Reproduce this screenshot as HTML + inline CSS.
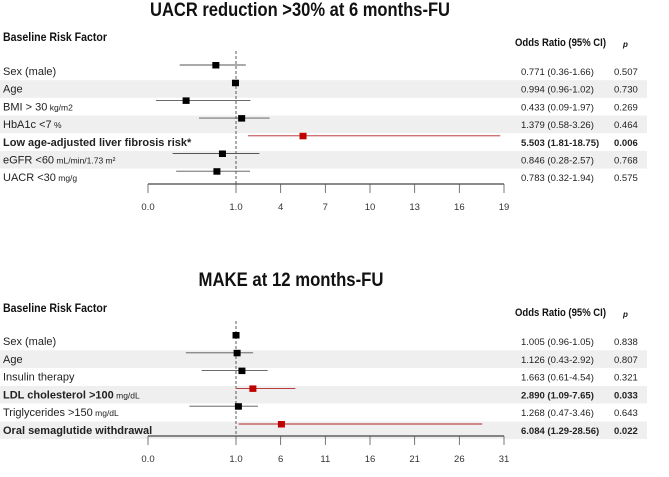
<!DOCTYPE html>
<html><head><meta charset="utf-8"><style>
html,body{margin:0;padding:0;background:#fff;width:669px;height:477px;overflow:hidden}
svg{display:block;font-family:"Liberation Sans",sans-serif}
</style></head><body>
<svg id="s" width="669" height="477" viewBox="0 0 669 477"></svg>
<script>
// Chart 1 data
const labels1 = ["Sex (male)","Age","BMI > 30|kg/m2","HbA1c <7|%","Low age-adjusted liver fibrosis risk*","eGFR <60|mL/min/1.73 m²","UACR <30|mg/g"];
const or1 = [0.771,0.994,0.433,1.379,5.503,0.846,0.783];
const lo1 = [0.36,0.96,0.09,0.58,1.81,0.28,0.32];
const hi1 = [1.66,1.02,1.97,3.26,18.75,2.57,1.94];
const orText1 = ["0.771 (0.36-1.66)","0.994 (0.96-1.02)","0.433 (0.09-1.97)","1.379 (0.58-3.26)","5.503 (1.81-18.75)","0.846 (0.28-2.57)","0.783 (0.32-1.94)"];
const pText1 = ["0.507","0.730","0.269","0.464","0.006","0.768","0.575"];
const sig1 = [false,false,false,false,true,false,false];
const ticks1 = [0,1,4,7,10,13,16,19];
const tickLabels1 = ["0.0","1.0","4","7","10","13","16","19"];
// Chart 2 data
const labels2 = ["Sex (male)","Age","Insulin therapy","LDL cholesterol >100|mg/dL","Triglycerides >150|mg/dL","Oral semaglutide withdrawal"];
const or2 = [1.005,1.126,1.663,2.890,1.268,6.084];
const lo2 = [0.96,0.43,0.61,1.09,0.47,1.29];
const hi2 = [1.05,2.92,4.54,7.65,3.46,28.56];
const orText2 = ["1.005 (0.96-1.05)","1.126 (0.43-2.92)","1.663 (0.61-4.54)","2.890 (1.09-7.65)","1.268 (0.47-3.46)","6.084 (1.29-28.56)"];
const pText2 = ["0.838","0.807","0.321","0.033","0.643","0.022"];
const sig2 = [false,false,false,true,false,true];
const ticks2 = [0,1,6,11,16,21,26,31];
const tickLabels2 = ["0.0","1.0","6","11","16","21","26","31"];

const NS="http://www.w3.org/2000/svg";
const svg=document.getElementById('s');
function el(tag,attrs,parent){const e=document.createElementNS(NS,tag);for(const k in attrs)e.setAttribute(k,attrs[k]);(parent||svg).appendChild(e);return e;}
function txt(x,y,s,attrs,parent){const t=el('text',Object.assign({x:x,y:y},attrs),parent);t.textContent=s;return t;}

function chart(cfg){
  const g=el('g',{});
  
  
  const x0=148,x1=236,xEnd=504,max=cfg.ticks[cfg.ticks.length-1];
  const xs=v=> v<=1 ? x0+(x1-x0)*v : x1+(xEnd-x1)*(v-1)/(max-1);
  const t=txt(cfg.titleX,cfg.titleY,cfg.title,{'font-size':19,'font-weight':'bold','text-anchor':'middle',fill:'#111',textLength:cfg.titleW,lengthAdjust:'spacingAndGlyphs'},g);
  
  const h=txt(3,cfg.headY,"Baseline Risk Factor",{'font-size':12,'font-weight':'bold',fill:'#111',textLength:104,lengthAdjust:'spacingAndGlyphs'},g);
  
  const oh=txt(515,cfg.orHeadY,"Odds Ratio (95% CI)",{'font-size':11,'font-weight':'bold',fill:'#111',textLength:91,lengthAdjust:'spacingAndGlyphs'},g);
  
  const ph=txt(623,cfg.orHeadY+1,"p",{'font-size':8,'font-weight':'bold','font-style':'italic',fill:'#111'},g);
  
  const n=cfg.labels.length;
  for(let i=0;i<n;i++){
    const yl=cfg.row0+i*cfg.step;
    if(i%2===1){
      const r=el('rect',{x:0,y:yl-8.5,width:647,height:17.6,fill:'#efefef'},g);
      
    }
  }
  const dl=el('line',{x1:xs(1),x2:xs(1),y1:cfg.row0-20,y2:cfg.axisY,stroke:'#333','stroke-dasharray':'3,2','stroke-width':0.8},g);
  
  for(let i=0;i<n;i++){
    const yl=cfg.row0+i*cfg.step, ym=yl-6;
    const parts=cfg.labels[i].split('|');
    const lt=txt(3,yl+4,parts[0],{'font-size':11,'font-weight':cfg.sig[i]?'bold':'normal',fill:'#222'},g);
    if(parts[1]){const ts=document.createElementNS(NS,'tspan');ts.setAttribute('font-size',8.5);ts.setAttribute('font-weight','normal');ts.textContent=' '+parts[1];lt.appendChild(ts);}
    
    const col=cfg.sig[i]?'#b22222':'#555';
    const ln=el('line',{x1:xs(cfg.lo[i]),x2:xs(cfg.hi[i]),y1:ym,y2:ym,stroke:col,'stroke-width':0.9},g);
    
    const sq=el('rect',{x:xs(cfg.or[i])-3.5,y:ym-3,width:7,height:6.5,fill:cfg.sig[i]?'#c00000':'#000'},g);
    
    const ot=txt(521,yl+4,cfg.orText[i],{'font-size':9.5,'font-weight':cfg.sig[i]?'bold':'normal',fill:'#222'},g);
    
    const pt=txt(614,yl+4,cfg.pText[i],{'font-size':9.5,'font-weight':cfg.sig[i]?'bold':'normal',fill:'#222'},g);
    
  }
  const ax=el('line',{x1:x0,x2:xEnd,y1:cfg.axisY,y2:cfg.axisY,stroke:'#444','stroke-width':1.2},g);
  
  cfg.ticks.forEach((v,k)=>{
    const tk=el('line',{x1:xs(v),x2:xs(v),y1:cfg.axisY,y2:cfg.axisY+9,stroke:'#555','stroke-width':0.8},g);
    
    const tl=txt(xs(v),cfg.axisY+26,cfg.tickLabels[k],{'font-size':9.5,'text-anchor':'middle',fill:'#333'},g);
    
  });
}
chart({name:'uacr-forest-plot',title:'UACR reduction >30% at 6 months-FU',titleX:300,titleY:16,titleW:300,headY:41,orHeadY:46,
  labels:labels1,or:or1,lo:lo1,hi:hi1,orText:orText1,pText:pText1,sig:sig1,ticks:ticks1,tickLabels:tickLabels1,row0:71,step:17.7,axisY:184});
chart({name:'make-forest-plot',title:'MAKE at 12 months-FU',titleX:291,titleY:286,titleW:185,headY:312,orHeadY:316,
  labels:labels2,or:or2,lo:lo2,hi:hi2,orText:orText2,pText:pText2,sig:sig2,ticks:ticks2,tickLabels:tickLabels2,row0:341,step:17.8,axisY:436});
</script>
</body></html>
